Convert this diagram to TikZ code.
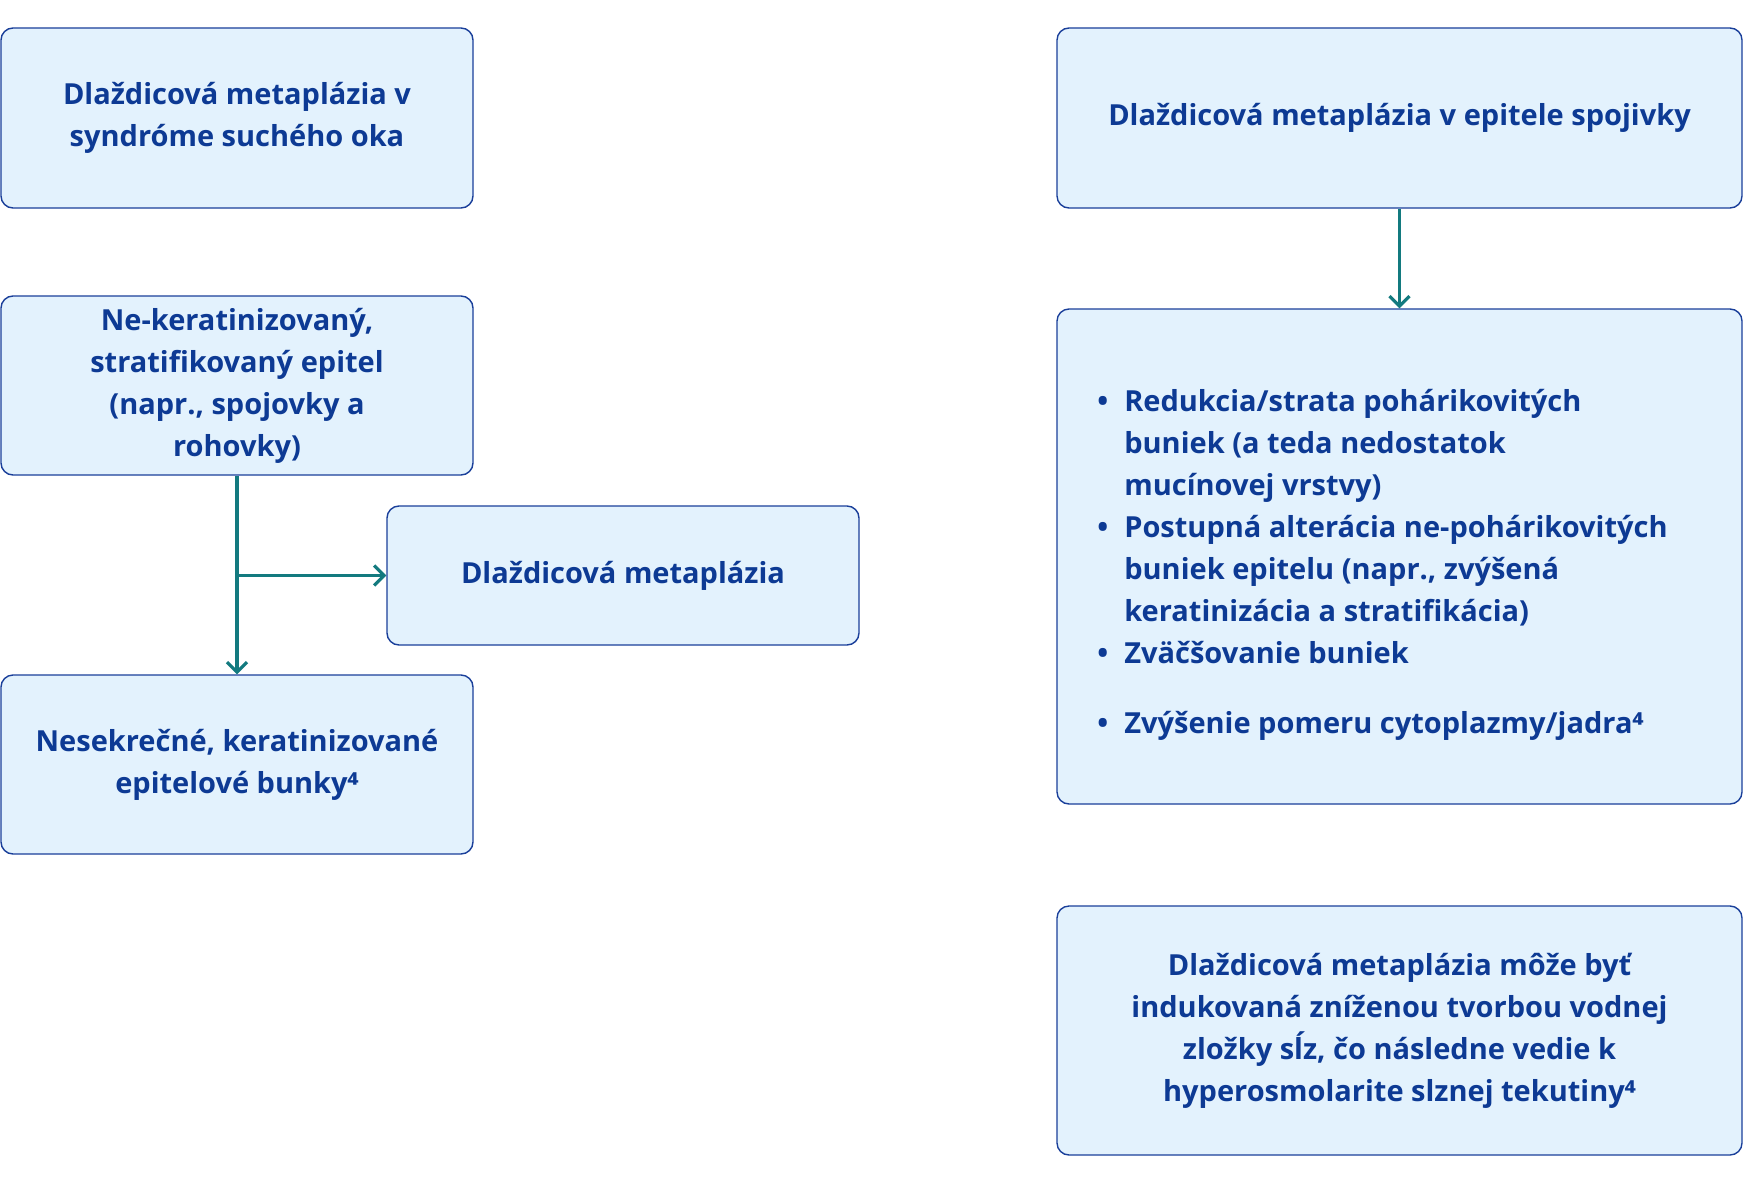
\documentclass[tikz,border=0pt]{standalone}
\usepackage{fontspec}
\setmainfont{Open Sans}
\definecolor{boxfill}{HTML}{E3F2FD}
\definecolor{boxline}{HTML}{1A3F9A}
\definecolor{boxtext}{HTML}{0D3A94}
\definecolor{arrowteal}{HTML}{137A7F}
\tikzset{
  card/.style={draw=boxline,fill=boxfill,rounded corners=6pt,line width=0.7pt,
    text=boxtext,font=\bfseries\fontsize{14.5}{21}\selectfont,align=center,inner sep=0pt},
  flow/.style={draw=arrowteal,line width=1.6pt,-{Straight Barb[length=5pt,width=10pt]}}
}
\usetikzlibrary{arrows.meta}
\begin{document}
\begin{tikzpicture}[x=0.5pt,y=-0.5pt]
  \useasboundingbox (0,0) rectangle (1744,1188);
  % left column
  \node[card,minimum width=236pt,minimum height=90pt] (dry) at (237,118)
    {Dlaždicová metaplázia v\\syndróme suchého oka};
  \node[card,minimum width=236pt,minimum height=89.5pt] (epi) at (237,385.5)
    {Ne-keratinizovaný,\\stratifikovaný epitel\\(napr., spojovky a\\rohovky)};
  \node[card,minimum width=236pt,minimum height=69.5pt] (meta) at (623,575.5)
    {Dlaždicová metaplázia};
  \node[card,minimum width=236pt,minimum height=89.5pt] (cells) at (237,764.5)
    {Nesekrečné, keratinizované\\epitelové bunky⁴};
  \coordinate (fork) at (epi.south |- meta.west);
  \draw[flow] (epi) -- (cells);
  \draw[flow] (fork) -- (meta);
  % right column
  \node[card,minimum width=342.5pt,minimum height=90pt] (conj) at (1399.5,118)
    {Dlaždicová metaplázia v epitele spojivky};
  \node[card,minimum width=342.5pt,minimum height=247.5pt] (list) at (1399.5,556.5) {};
  \node[text=boxtext,font=\bfseries\fontsize{14.5}{21}\selectfont,anchor=north west,inner sep=0pt]
    (items) at (1097,382) {%
    \begin{tabular}{@{}l@{\hspace{8pt}}l@{}}
      • & Redukcia/strata pohárikovitých\\
        & buniek (a teda nedostatok\\
        & mucínovej vrstvy)\\
      • & Postupná alterácia ne-pohárikovitých\\
        & buniek epitelu (napr., zvýšená\\
        & keratinizácia a stratifikácia)\\
      • & Zväčšovanie buniek\\[14pt]
      • & Zvýšenie pomeru cytoplazmy/jadra⁴
    \end{tabular}};
  \node[card,minimum width=342.5pt,minimum height=124.5pt] (cause) at (1399.5,1030.5)
    {Dlaždicová metaplázia môže byť\\indukovaná zníženou tvorbou vodnej\\zložky sĺz, čo následne vedie k\\hyperosmolarite slznej tekutiny⁴};
  \draw[flow] (conj) -- (list);
\end{tikzpicture}
\end{document}
